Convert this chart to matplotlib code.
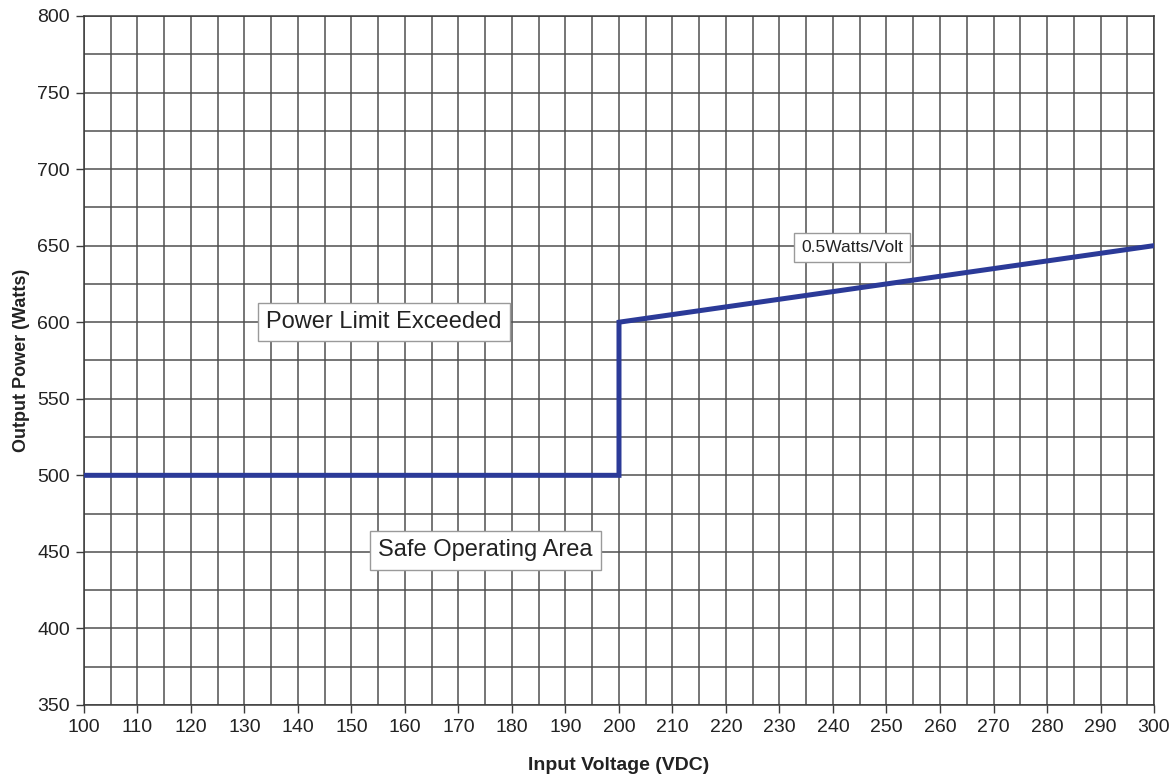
import matplotlib.pyplot as plt
import numpy as np

plt.rcParams['font.family'] = ['Liberation Sans', 'DejaVu Sans']

# power curve
voltage = [100, 200, 200, 205, 210, 215, 220, 225, 230, 235, 240, 245, 250,
           255, 260, 265, 270, 275, 280, 285, 290, 295, 300]
power = [500, 500, 600, 602.5, 605, 607.5, 610, 612.5, 615, 617.5, 620, 622.5, 625,
         627.5, 630, 632.5, 635, 637.5, 640, 642.5, 645, 647.5, 650]

x_ticks = np.arange(100, 301, 10)
y_ticks = np.arange(350, 801, 50)

fig = plt.figure(figsize=(11.76, 7.79), dpi=100)
ax = fig.add_axes([0.0714, 0.095, 0.9099, 0.8845])

# grid every 5 V and every 25 W
ax.set_xticks(np.arange(100, 301, 5), minor=True)
ax.set_yticks(np.arange(350, 801, 25), minor=True)
ax.grid(which='both', color='#4f4f4f', linewidth=1.1)
ax.set_axisbelow(True)

ax.plot(voltage, power, color='#2b3a98', linewidth=3.6, solid_joinstyle='miter', zorder=3)

ax.set_xlim(100, 300)
ax.set_ylim(350, 800)
ax.set_xticks(x_ticks)
ax.set_yticks(y_ticks)
ax.tick_params(which='minor', length=0)
ax.tick_params(which='major', length=6, width=1, color='#3a3a3a', labelsize=14,
               labelcolor='#222222', pad=4)
for s in ax.spines.values():
    s.set_color('#3a3a3a')
    s.set_linewidth(1.1)

ax.set_xlabel('Input Voltage (VDC)', fontsize=14, fontweight='bold', labelpad=15, color='#222222')
ax.set_ylabel('Output Power (Watts)', fontsize=13, fontweight='bold', labelpad=5, color='#222222')

box = dict(boxstyle='square,pad=0.35', facecolor='white', edgecolor='#9a9a9a', linewidth=1)
ax.text(156, 600, 'Power Limit Exceeded', fontsize=17, ha='center', va='center',
        color='#222222', bbox=box, zorder=4)
ax.text(175, 451, 'Safe Operating Area', fontsize=17, ha='center', va='center',
        color='#222222', bbox=box, zorder=4)
ax.text(243.6, 648.5, '0.5Watts/Volt', fontsize=12.5, ha='center', va='center', color='#222222',
        bbox=dict(boxstyle='square,pad=0.4', facecolor='white', edgecolor='#9a9a9a', linewidth=1), zorder=4)

plt.savefig('out.png', dpi=100)
